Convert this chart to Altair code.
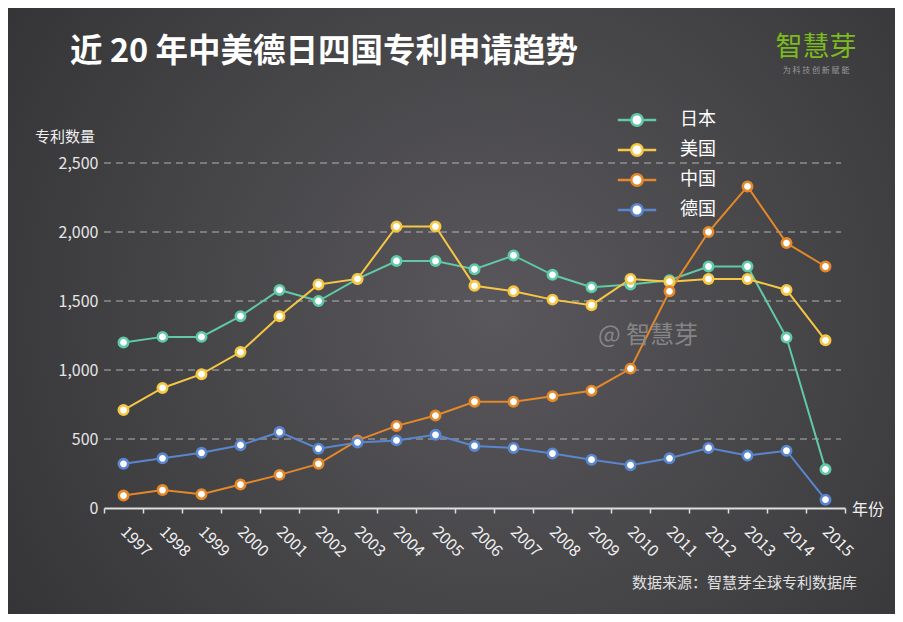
import altair as alt
import pandas as pd

years = list(range(1997, 2016))
japan = [1200, 1240, 1240, 1390, 1580, 1500, 1660, 1790, 1790, 1730, 1830, 1690, 1600, 1620, 1650, 1750, 1750, 1235, 280]
usa = [710, 870, 970, 1130, 1390, 1620, 1660, 2040, 2040, 1610, 1570, 1510, 1470, 1660, 1640, 1660, 1660, 1580, 1215]
china = [90, 130, 100, 170, 240, 320, 490, 595, 670, 770, 770, 810, 850, 1010, 1570, 2000, 2330, 1920, 1750]
germany = [320, 360, 400, 455, 550, 430, 475, 490, 530, 450, 435, 395, 350, 310, 360, 435, 380, 415, 60]
countries = ["日本", "美国", "中国", "德国"]
colors = ["#5fcaa5", "#f6c744", "#e4882a", "#5a86d0"]
y_ticks = [0, 500, 1000, 1500, 2000, 2500]
grid_values = [500, 1000, 1500, 2000, 2500]

title_text = "近 20 年中美德日四国专利申请趋势"
logo_text = "智慧芽"
slogan_text = "为 科 技 创 新 赋 能"
y_title = "专利数量"
x_title = "年份"
watermark = "@ 智慧芽"
source_text = "数据来源：智慧芽全球专利数据库"

FONT = "Noto Sans CJK SC"

series = {"日本": japan, "美国": usa, "中国": china, "德国": germany}
rows = []
for c in countries:
    for yr, v in zip(years, series[c]):
        rows.append({"年份": str(yr), "专利数量": v, "国家": c})
df = pd.DataFrame(rows)

W, H = 741, 345
PL, PT, PR, PB = 96, 155, 50, 106

bg = alt.Chart(pd.DataFrame({"a": [0]})).mark_rect(
    color={
        "gradient": "radial",
        "x1": 0.55, "y1": 0.5, "r1": 0,
        "x2": 0.55, "y2": 0.5, "r2": 0.75,
        "stops": [
            {"offset": 0, "color": "#59575b"},
            {"offset": 1, "color": "#2f2f31"},
        ],
    }
).encode(
    x=alt.value(-PL), x2=alt.value(W + PR), y=alt.value(-PT), y2=alt.value(H + PB)
)

y_axis = alt.Axis(
    values=y_ticks, format=",d", title=None, labelFontSize=16,
    labelColor="#e6e6e6", labelPadding=6, ticks=False, domain=False,
    grid=False, labelFont=FONT, zindex=1,
)
y_scale = alt.Scale(domain=[0, 2500], nice=False)

grid = alt.Chart(pd.DataFrame({"专利数量": grid_values})).mark_rule(
    color="#c4c4c4", strokeWidth=1, strokeDash=[7, 5], opacity=0.85
).encode(
    y=alt.Y("专利数量:Q", scale=y_scale, axis=y_axis),
    x=alt.value(0),
    x2=alt.value(W - 4),
)

x_enc = alt.X(
    "年份:O",
    bandPosition=0.5,
    scale=alt.Scale(type="band", paddingInner=0, paddingOuter=0),
    axis=alt.Axis(
        title=None, labelAngle=45, labelAlign="left", labelBaseline="top",
        labelFontSize=16, labelColor="#f0f0f0", labelPadding=10, labelOffset=5,
        labelFont=FONT,
        tickBand="extent", tickSize=5, tickColor="#dddddd", tickWidth=1.5,
        domainColor="#dddddd", domainWidth=2, grid=False, zindex=1,
    ),
)
y_enc = alt.Y("专利数量:Q", scale=y_scale, axis=y_axis)
stroke_enc = alt.Stroke(
    "国家:N",
    sort=countries,
    scale=alt.Scale(domain=countries, range=colors),
    legend=alt.Legend(
        title=None, orient="none", legendX=524, legendY=-52, padding=0,
        symbolType="M-3.2,0L-0.95,0M0.95,0L3.2,0M-0.95,0A0.95,0.95,0,1,0,0.95,0A0.95,0.95,0,1,0,-0.95,0Z",
        symbolSize=144, symbolStrokeWidth=2.5, symbolFillColor="white",
        labelFontSize=18, labelColor="#ffffff", labelFont=FONT, labelOffset=34,
        rowPadding=8, zindex=1,
    ),
)

base = alt.Chart(df).encode(x=x_enc, y=y_enc, stroke=stroke_enc)
lines = base.mark_line(strokeWidth=2)
points = base.mark_point(shape="circle", size=88, strokeWidth=2.6, fill="white", fillOpacity=1, opacity=1)


def txt(s, x, y, size, color, align="left", weight="normal", opacity=1.0):
    return alt.Chart(pd.DataFrame({"t": [s]})).mark_text(
        align=align, baseline="middle", fontSize=size, color=color,
        fontWeight=weight, font=FONT, opacity=opacity,
    ).encode(x=alt.value(x), y=alt.value(y), text="t:N")


texts = [
    txt(title_text, -34, -111, 32.5, "#ffffff", weight="bold"),
    txt(logo_text, 712, -115, 27, "#7cbb1e", align="center"),
    txt(slogan_text, 712, -92, 8, "#9a9a9a", align="center"),
    txt(y_title, -69, -26, 15, "#eeeeee"),
    txt(x_title, 748, 347, 16, "#eeeeee"),
    txt(watermark, 494, 173, 24, "#8c8c8c", opacity=0.9),
    txt(source_text, 753, 420, 15, "#e0e0e0", align="right"),
]

chart = alt.layer(bg, grid, lines, points, *texts).properties(
    width=W, height=H,
    autosize=alt.AutoSizeParams(type="none"),
    padding={"left": PL, "top": PT, "right": PR, "bottom": PB},
).configure(
    background="#3a3a3c", font=FONT
).configure_view(stroke=None)

chart.save("out.html", embed_options={"renderer": "svg", "actions": False})
